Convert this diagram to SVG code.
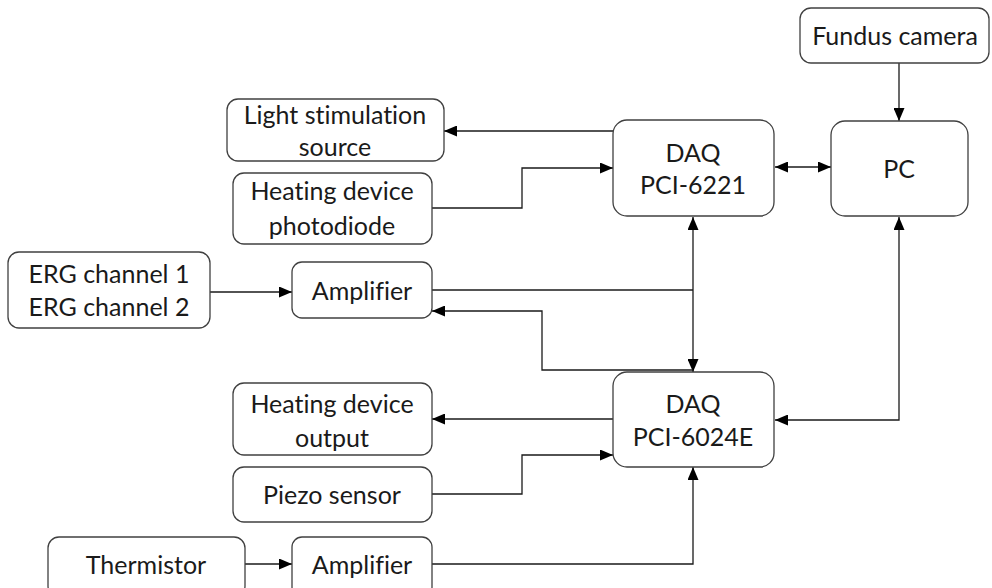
<svg xmlns="http://www.w3.org/2000/svg" width="992" height="588" viewBox="0 0 992 588">
<style>
.box{fill:#fff;stroke:#404040;stroke-width:1.3}
.t{font-family:Lato,"Open Sans",sans-serif;font-size:25px;fill:#1a1a1a;text-anchor:middle;dominant-baseline:central;font-variant-ligatures:none}
.c{fill:none;stroke:#1a1a1a;stroke-width:1.3}
</style>
<defs>
<marker id="a" viewBox="0 0 13 11" refX="13" refY="5.5" markerWidth="13" markerHeight="11" markerUnits="userSpaceOnUse" orient="auto-start-reverse">
<path d="M0,0 L13,5.5 L0,11 Z" fill="#000"/>
</marker>
</defs>
<rect width="992" height="588" fill="#fff"/>
<g id="connectors">
<path class="c" d="M899,63 V121" marker-end="url(#a)"/>
<path class="c" d="M775,167 H831" marker-start="url(#a)" marker-end="url(#a)"/>
<path class="c" d="M613,131 H444" marker-end="url(#a)"/>
<path class="c" d="M432,208 H522 V168 H613" marker-end="url(#a)"/>
<path class="c" d="M210,292 H292" marker-end="url(#a)"/>
<path class="c" d="M693,217 V372" marker-start="url(#a)" marker-end="url(#a)"/>
<path class="c" d="M432,290 H693"/>
<path class="c" d="M693,370 H542 V311 H432" marker-end="url(#a)"/>
<path class="c" d="M899,217 V420 H775" marker-start="url(#a)" marker-end="url(#a)"/>
<path class="c" d="M613,419 H432" marker-end="url(#a)"/>
<path class="c" d="M432,494 H522 V455 H613" marker-end="url(#a)"/>
<path class="c" d="M245,564 H292" marker-end="url(#a)"/>
<path class="c" d="M432,564 H693 V467" marker-end="url(#a)"/>
</g>
<g id="fundus"><rect class="box" x="800" y="8" width="189" height="55" rx="11"/><text class="t" x="895" y="35">Fundus camera</text></g>
<g id="light"><rect class="box" x="227" y="99" width="217" height="62" rx="11"/><text class="t" x="335" y="114">Light stimulation</text><text class="t" x="335" y="146">source</text></g>
<g id="photodiode"><rect class="box" x="233" y="173" width="199" height="71" rx="11"/><text class="t" x="332" y="190">Heating device</text><text class="t" x="332" y="225">photodiode</text></g>
<g id="daq1"><rect class="box" x="613" y="120" width="161" height="96" rx="14"/><text class="t" x="693" y="152">DAQ</text><text class="t" x="693" y="184">PCI-6221</text></g>
<g id="pc"><rect class="box" x="831" y="121" width="137" height="95" rx="14"/><text class="t" x="899" y="168">PC</text></g>
<g id="erg"><rect class="box" x="8" y="252" width="202" height="76" rx="11"/><text class="t" x="109" y="273">ERG channel 1</text><text class="t" x="109" y="306">ERG channel 2</text></g>
<g id="amp1"><rect class="box" x="292" y="262" width="140" height="56" rx="10"/><text class="t" x="362" y="290">Amplifier</text></g>
<g id="daq2"><rect class="box" x="613" y="372" width="161" height="95" rx="14"/><text class="t" x="693" y="403">DAQ</text><text class="t" x="693" y="436">PCI-6024E</text></g>
<g id="heatout"><rect class="box" x="233" y="383" width="199" height="72" rx="11"/><text class="t" x="332" y="403">Heating device</text><text class="t" x="332" y="437">output</text></g>
<g id="piezo"><rect class="box" x="233" y="467" width="199" height="55" rx="11"/><text class="t" x="332" y="494">Piezo sensor</text></g>
<g id="thermistor"><rect class="box" x="48" y="537" width="197" height="60" rx="11"/><text class="t" x="146" y="564">Thermistor</text></g>
<g id="amp2"><rect class="box" x="292" y="537" width="140" height="60" rx="10"/><text class="t" x="362" y="564">Amplifier</text></g>
</svg>
